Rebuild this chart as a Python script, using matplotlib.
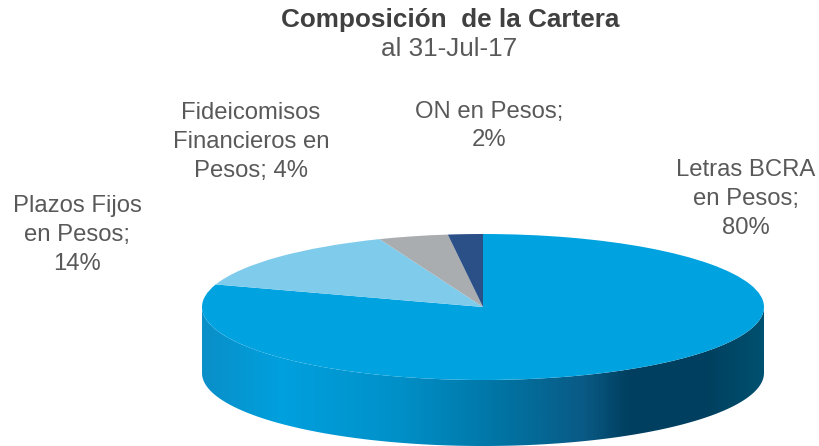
import matplotlib
matplotlib.use("Agg")
import matplotlib.pyplot as plt
import numpy as np
from matplotlib.colors import LinearSegmentedColormap
from matplotlib.patches import Polygon

plt.rcParams["font.family"] = ["Liberation Sans", "DejaVu Sans"]

W, H = 819, 446
CX, CY = 483, 307
RX, RY = 281, 73
DEPTH = 66

categories = ["Letras BCRA\nen Pesos;\n80%", "Plazos Fijos\nen Pesos;\n14%",
              "Fideicomisos\nFinancieros en\nPesos; 4%", "ON en Pesos;\n2%"]
shares = [80, 14, 4, 2]
colors = ["#00a3e0", "#7fcbec", "#a9adb0", "#2b5088"]
label_pos = [(746, 199), (77, 235), (251, 142), (489, 126)]

wall_stops = [(0.0, "#0a8fc8"), (0.14, "#00a0de"), (0.35, "#0090c8"), (0.52, "#0076a6"),
              (0.68, "#0a5a85"), (0.76, "#003f60"), (0.90, "#00405f"), (1.0, "#00506f")]

fig = plt.figure(figsize=(W / 100, H / 100), dpi=100)
ax = fig.add_axes([0, 0, 1, 1])

# pie in unit radius, axes limits squash it to the ellipse
ax.pie(shares, colors=colors, startangle=90, counterclock=False, radius=1,
       wedgeprops={"linewidth": 0, "zorder": 3})
ax.set_aspect("auto")

# side wall: gradient clipped to the lower rim
t = np.linspace(np.pi, 2 * np.pi, 200)
d = DEPTH / RY
rim = np.column_stack([np.cos(t), np.sin(t) - d])
top = np.column_stack([np.cos(t[::-1]), np.sin(t[::-1])])
wall = Polygon(np.vstack([rim, top]), closed=True, transform=ax.transData, fc="none", ec="none")
ax.add_patch(wall)
cmap = LinearSegmentedColormap.from_list("wall", wall_stops)
im = ax.imshow(np.linspace(0, 1, 512)[None, :], cmap=cmap, aspect="auto",
               extent=(-1, 1, -1 - d, 0), zorder=2)
im.set_clip_path(wall)
ax.set_xlim(-CX / RX, (W - CX) / RX)
ax.set_ylim((CY - H) / RY, CY / RY)
ax.axis("off")

for text, (x, y) in zip(categories, label_pos):
    fig.text(x / W, 1 - y / H, text, ha="center", va="center", fontsize=17.2,
             color="#595959", linespacing=1.4)

fig.text(450 / W, 1 - 20 / H, "Composición  de la Cartera", ha="center", va="center",
         fontsize=18.8, fontweight="bold", color="#404040")
fig.text(449 / W, 1 - 49 / H, "al 31-Jul-17", ha="center", va="center",
         fontsize=18.8, color="#595959")

fig.savefig("out.png", dpi=100)
